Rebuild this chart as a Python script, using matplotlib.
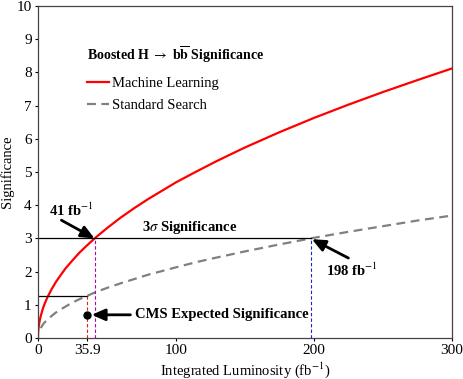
import matplotlib.pyplot as plt

plt.rcParams['font.family'] = ['Liberation Serif', 'DejaVu Serif']
plt.rcParams['mathtext.fontset'] = 'stix'

# The data
lumi = [0, 0.1, 0.3, 0.6, 1, 1.5, 2, 3, 4, 5, 7, 10, 13, 16, 20, 25, 30, 35, 41, 50,
        60, 70, 80, 90, 100, 115, 130, 150, 175, 200, 225, 250, 275, 300]
sig_ml = [0, 0.15, 0.26, 0.36, 0.47, 0.57, 0.66, 0.81, 0.94, 1.05, 1.24, 1.48,
          1.69, 1.87, 2.10, 2.34, 2.57, 2.77, 3.0, 3.31, 3.63, 3.92, 4.19, 4.44,
          4.69, 5.02, 5.34, 5.74, 6.20, 6.63, 7.03, 7.41, 7.77, 8.12]
lumi_std = lumi[6:]
sig_std = [0.30, 0.37, 0.43, 0.48, 0.56, 0.67, 0.77, 0.85, 0.95, 1.07, 1.17,
           1.26, 1.37, 1.51, 1.65, 1.78, 1.91, 2.02, 2.13, 2.29, 2.43, 2.61,
           2.82, 3.02, 3.20, 3.37, 3.54, 3.69]

cms_lumi = 35.9
cms_std = 1.28
cms_expected = 0.7
lumi_ml_3sigma = 41
lumi_std_3sigma = 198

fig = plt.figure(figsize=(4.63, 3.79), dpi=100)
ax = fig.add_axes([0.082, 0.108, 0.894, 0.876])

ax.plot(lumi, sig_ml, color="#ff0000", lw=1.6, label="Machine Learning")
ax.plot(lumi_std, sig_std, color="#808080", lw=1.6, ls=(0, (4, 2.5)),
        label="Standard Search")

# 3 sigma line and guides
ax.plot([0, lumi_std_3sigma], [3, 3], color="black", lw=0.9)
ax.plot([0, cms_lumi], [cms_std, cms_std], color="black", lw=0.9)
ax.plot([lumi_ml_3sigma, lumi_ml_3sigma], [0, 3], color="#b000b0", lw=0.8, ls=(0, (3, 2)))
ax.plot([lumi_std_3sigma, lumi_std_3sigma], [0, 3], color="#2020d0", lw=0.8, ls=(0, (3, 2)))
ax.plot([cms_lumi, cms_lumi], [0, cms_std], color="#e02020", lw=0.8, ls=(0, (3, 2)))
ax.plot([cms_lumi], [cms_expected], 'o', color="black", ms=5)

arrow = dict(arrowstyle="-|>,head_length=0.8,head_width=0.35", color="black", lw=2,
             shrinkA=0, shrinkB=0)
ax.text(8, 3.85, r"41 fb$^{-1}$", fontsize=10.5, fontweight="bold", va="center", ha="left")
ax.annotate("", xy=(lumi_ml_3sigma, 3), xytext=(17, 3.55), arrowprops=arrow)
ax.text(209, 2.05, r"198 fb$^{-1}$", fontsize=10.5, fontweight="bold", va="center", ha="left")
ax.annotate("", xy=(lumi_std_3sigma + 0.5, 2.98), xytext=(225, 2.41), arrowprops=arrow)
ax.text(70, cms_expected, "CMS Expected Significance", fontsize=10.5, fontweight="bold",
        va="center", ha="left")
ax.annotate("", xy=(cms_lumi + 3, cms_expected), xytext=(67, cms_expected), arrowprops=arrow)
ax.text(110, 3.08, r"3$\sigma$ Significance", fontsize=10.5, fontweight="bold",
        ha="center", va="bottom")

leg = ax.legend(loc="upper left", bbox_to_anchor=(0.086, 0.925), frameon=False,
                title=r"Boosted H $\rightarrow$ b$\mathbf{\overline{b}}$ Significance",
                fontsize=10.5, handlelength=1.5, handletextpad=0.25, labelspacing=0.6)
leg.get_title().set_fontweight("bold")
leg.get_title().set_fontsize(10)
leg._legend_box.align = "left"
leg._legend_box.sep = 9

ax.set_xlim(0, 300)
ax.set_ylim(0, 10)
ax.set_xticks([0, 35.9, 100, 200, 300])
ax.set_xticklabels(["0", "35.9", "100", "200", "300"])
ax.set_yticks(range(11))
ax.tick_params(direction="out", length=2.5, labelsize=11, width=0.8, pad=2)
for s in ax.spines.values():
    s.set_color("#444444")
    s.set_linewidth(0.9)
ax.set_xlabel(r"Integrated Luminosity (fb$^{-1}$)", fontsize=10.5, labelpad=2)
ax.set_ylabel("Significance", fontsize=10.5, labelpad=2)

fig.savefig("out.png", dpi=100)
